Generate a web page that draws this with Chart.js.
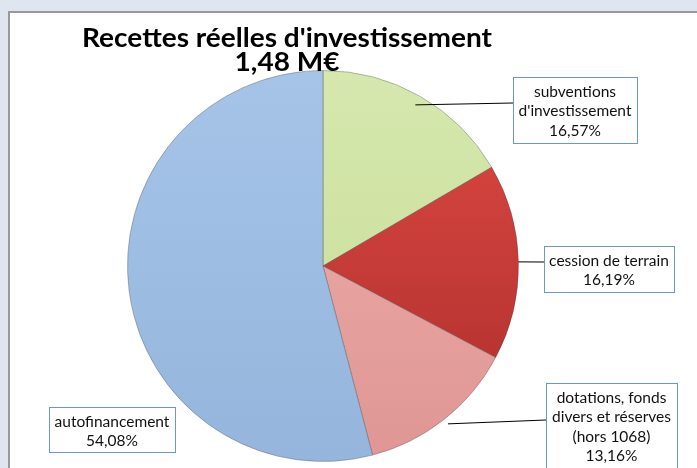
<!DOCTYPE html>
<html>
<head>
<meta charset="utf-8">
<script src="https://cdn.jsdelivr.net/npm/chart.js@4.4.1/dist/chart.umd.min.js"></script>
<style>
    html, body { margin: 0; padding: 0; background: #dfe6f0; }
    #wrap { width: 697px; height: 468px; }
</style>
</head>
<body>
<div id="wrap"><canvas id="recettesPie" width="697" height="468"></canvas></div>
<script>
const titleLines = ["Recettes réelles d'investissement", '1,48 M€']
const categories = [
    ['subventions', "d'investissement"],
    ['cession de terrain'],
    ['dotations, fonds', 'divers et réserves', '(hors 1068)'],
    ['autofinancement']
]
const shares = [16.57, 16.19, 13.16, 54.08]
const shareLabels = shares.map(v => v.toFixed(2).replace('.', ',') + '%')

// light (top) / dark (bottom) shade of each slice
const sliceShades = [
    ['#d6e8ae', '#c6dc96'],
    ['#e04a43', '#aa2d2c'],
    ['#eeb0ad', '#df9694'],
    ['#a6c4e8', '#95b5dc']
]

// where the label boxes sit, and where their leader line starts
const boxes = [
    { x: 513, y: 77, w: 124, h: 66, lead: [513, 103], r: 0.95 },
    { x: 544, y: 246, w: 130, h: 46, lead: [544, 262], r: 1.0 },
    { x: 546, y: 383, w: 131, h: 90, lead: [546, 420], r: 1.03 },
    { x: 49, y: 407, w: 126, h: 45, lead: null }
]

const sliceFill = (c) => {
    const shade = sliceShades[c.dataIndex]
    const area = c.chart.chartArea
    if (!area) return shade[0]
    const g = c.chart.ctx.createLinearGradient(0, area.top, 0, area.bottom)
    g.addColorStop(0, shade[0])
    g.addColorStop(1, shade[1])
    return g
}

const frame = {
    id: 'frame',
    beforeDraw(chart) {
        const { ctx, width, height } = chart
        ctx.save()
        ctx.fillStyle = '#dfe6f0'
        ctx.fillRect(0, 0, width, height)
        ctx.fillStyle = '#ffffff'
        ctx.fillRect(8, 11, width - 8, height - 11)
        ctx.strokeStyle = '#9a9a9a'
        ctx.lineWidth = 2
        ctx.beginPath()
        ctx.moveTo(9, height)
        ctx.lineTo(9, 12)
        ctx.lineTo(width, 12)
        ctx.stroke()
        ctx.restore()
    }
}

const callouts = {
    id: 'callouts',
    afterDatasetsDraw(chart) {
        const { ctx } = chart
        const arcs = chart.getDatasetMeta(0).data
        ctx.save()
        arcs.forEach((arc, i) => {
            const b = boxes[i]
            if (b.lead) {
                const mid = (arc.startAngle + arc.endAngle) / 2
                const rr = arc.outerRadius * b.r
                ctx.strokeStyle = '#000'
                ctx.lineWidth = 1
                ctx.beginPath()
                ctx.moveTo(arc.x + Math.cos(mid) * rr, arc.y + Math.sin(mid) * rr)
                ctx.lineTo(b.lead[0], b.lead[1])
                ctx.stroke()
            }
            ctx.fillStyle = '#ffffff'
            ctx.fillRect(b.x, b.y, b.w, b.h)
            ctx.strokeStyle = '#6a97cf'
            ctx.lineWidth = 1
            ctx.strokeRect(b.x + 0.5, b.y + 0.5, b.w, b.h)
            const lines = categories[i].concat([shareLabels[i]])
            ctx.fillStyle = '#111'
            ctx.font = '15.5px Lato, "Open Sans", sans-serif'
            ctx.textAlign = 'center'
            ctx.textBaseline = 'middle'
            const lh = 19.3
            const top = b.y + 15
            lines.forEach((t, k) => ctx.fillText(t, b.x + b.w / 2, top + k * lh))
        })
        ctx.restore()
    }
}

const bigTitle = {
    id: 'bigTitle',
    afterDraw(chart) {
        const { ctx } = chart
        ctx.save()
        ctx.fillStyle = '#000'
        ctx.font = 'bold 26px Lato, sans-serif'
        ctx.textBaseline = 'alphabetic'
        ctx.textAlign = 'center'
        const w = ctx.measureText(titleLines[0]).width
        ctx.translate(287, 0)
        ctx.scale(410 / w, 1)
        ctx.fillText(titleLines[0], 0, 47)
        ctx.fillText(titleLines[1], 0, 71)
        ctx.restore()
    }
}

new Chart(document.getElementById('recettesPie'), {
    type: 'pie',
    data: {
        labels: categories.map(c => c.join(' ')),
        datasets: [{
            data: shares,
            backgroundColor: sliceFill,
            borderColor: 'rgba(70,70,70,0.35)',
            borderWidth: 1
        }]
    },
    options: {
        responsive: false,
        animation: false,
        layout: { padding: { top: 70, bottom: 6, left: 127, right: 178 } },
        plugins: {
            legend: { display: false },
            tooltip: { enabled: false }
        }
    },
    plugins: [frame, callouts, bigTitle]
})
</script>
</body>
</html>
